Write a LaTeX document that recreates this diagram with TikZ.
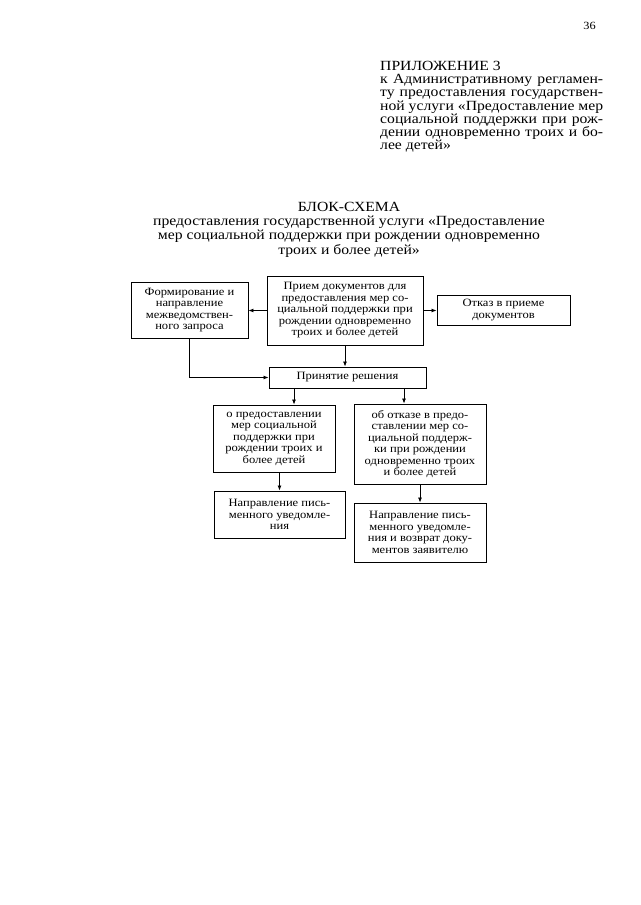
\documentclass[tikz,border=0pt]{standalone}
\usepackage{fontspec}
\setmainfont[FakeStretch=1.12]{Liberation Serif}
\usetikzlibrary{arrows.meta}
\newcommand\jl[1]{\hbox to 223pt{#1}}
\begin{document}
\begin{tikzpicture}[x=1pt,y=-1pt,
  box/.style={draw,line width=0.9pt,inner sep=0pt,align=center,
    font=\fontsize{11.2}{11.5}\selectfont},
  arr/.style={line width=0.8pt,-{Latex[length=5pt,width=4pt]}}]
\useasboundingbox[fill=white] (0,0) rectangle (640,905);
\node (pg) at (589.5,26) {\fontsize{11}{13}\selectfont 36};
\node[anchor=north west,inner sep=0pt,align=left,font=\fontsize{14}{13.2}\selectfont] (app) at (380,61)
 {ПРИЛОЖЕНИЕ 3\\
  \jl{к Административному регламен-}\\
  \jl{ту предоставления государствен-}\\
  \jl{ной услуги «Предоставление мер}\\
  \jl{социальной поддержки при рож-}\\
  \jl{дении одновременно троих и бо-}\\
  лее детей»};
\node[anchor=north,inner sep=0pt,align=center,font=\fontsize{14}{14.2}\selectfont] (title) at (349,202)
 {БЛОК-СХЕМА\\
  предоставления государственной услуги «Предоставление\\
  мер социальной поддержки при рождении одновременно\\
  троих и более детей»};
\node[box,minimum width=117,minimum height=56] (A) at (189.5,310) {Формирование и\\направление\\межведомствен-\\ного запроса};
\node[box,minimum width=156,minimum height=69] (B) at (345,310.5) {Прием документов для\\предоставления мер со-\\циальной поддержки при\\рождении одновременно\\троих и более детей};
\node[box,minimum width=133,minimum height=30] (C) at (503.5,310) {Отказ в приеме\\документов};
\node[box,minimum width=157,minimum height=21] (D) at (347.5,377.5) {Принятие решения};
\node[box,minimum width=122,minimum height=67] (E) at (274,438.5) {о предоставлении\\мер социальной\\поддержки при\\рождении троих и\\более детей};
\node[box,minimum width=132,minimum height=80] (F) at (420,444) {об отказе в предо-\\ставлении мер со-\\циальной поддерж-\\ки при рождении\\одновременно троих\\и более детей};
\node[box,minimum width=131,minimum height=47] (G) at (279.5,514.5) {Направление пись-\\менного уведомле-\\ния};
\node[box,minimum width=132,minimum height=59] (H) at (420,532.5) {Направление пись-\\менного уведомле-\\ния и возврат доку-\\ментов заявителю};
\draw[arr] (B.west) -- (B.west -| A.east);
\draw[arr] (B.east) -- (B.east -| C.west);
\draw[arr] (B.south) -- (B.south |- D.north);
\draw[arr] (A.south) |- (D.west);
\draw[arr] ([xshift=-53.5]D.south) -- ([xshift=-53.5]D.south |- E.north);
\draw[arr] ([xshift=56.5]D.south) -- ([xshift=56.5]D.south |- F.north);
\draw[arr] (G.north |- E.south) -- (G.north);
\draw[arr] (F.south) -- (H.north);
\end{tikzpicture}
\end{document}
